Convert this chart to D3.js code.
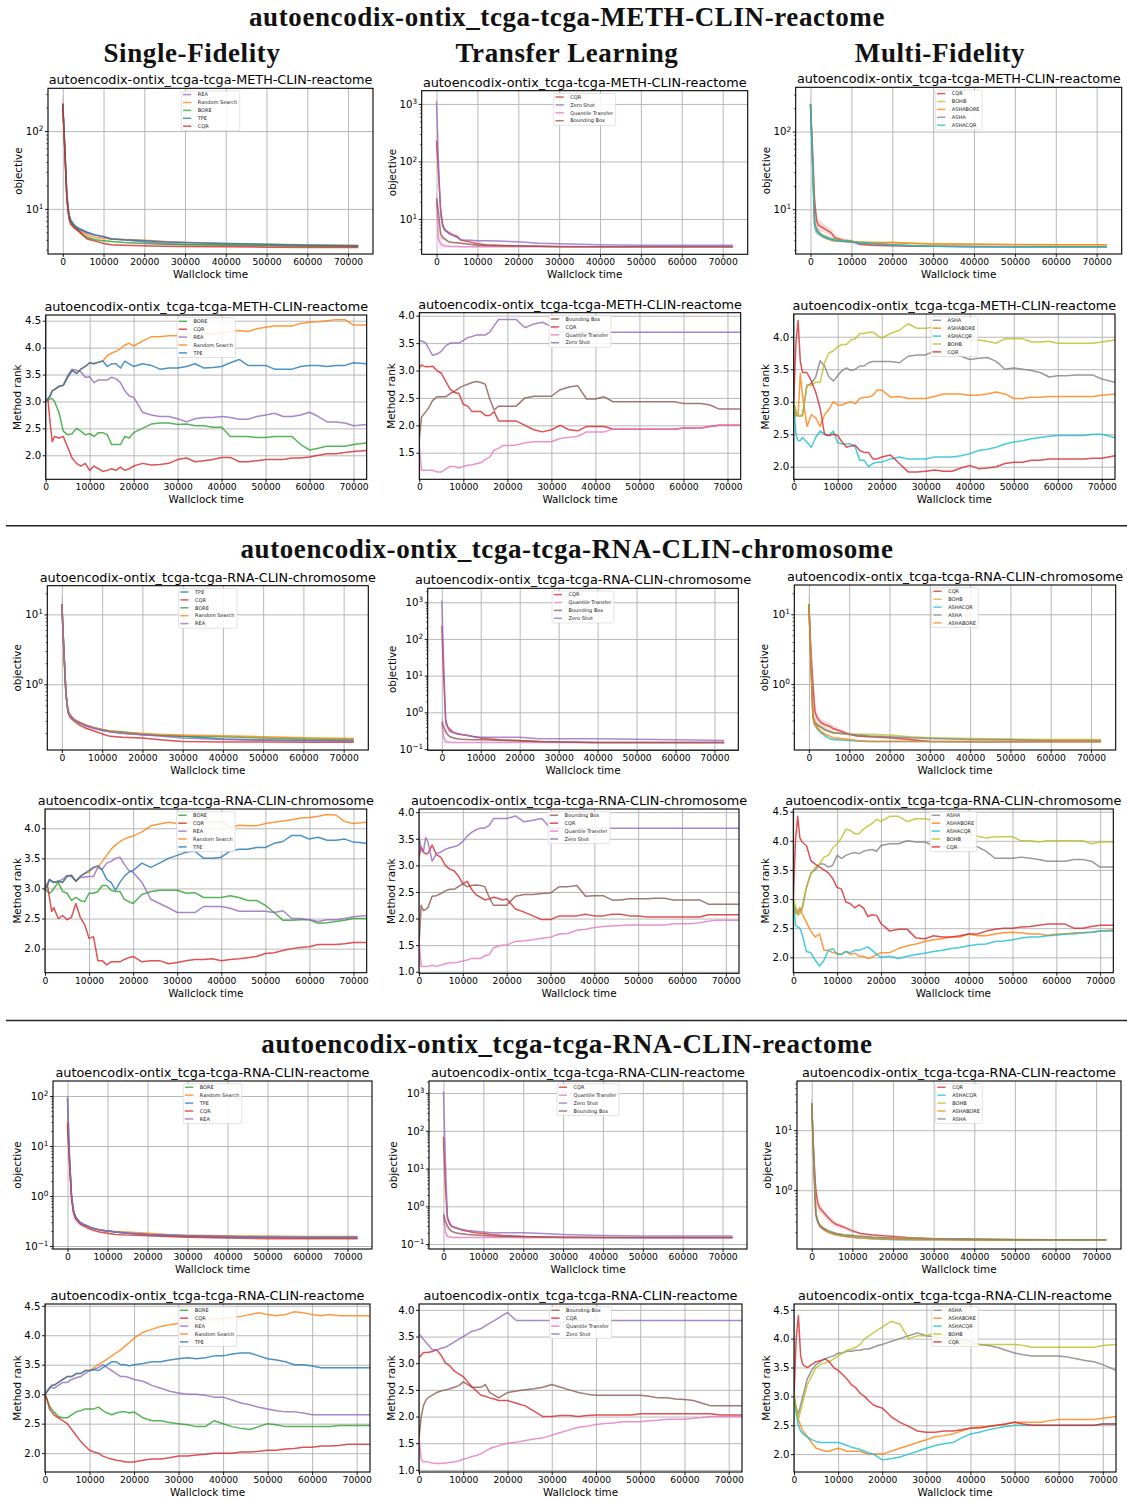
<!DOCTYPE html>
<html>
<head>
<meta charset="utf-8">
<script src="https://cdn.jsdelivr.net/npm/d3@7"></script>
<style>
  body { margin: 0; background: #fff; }
  svg { display: block; }
</style>
</head>
<body>
<svg id="fig" width="1127" height="1501"></svg>
<script>
// ---------------------------------------------------------------------------
// Time grids (seconds of wallclock time)
// ---------------------------------------------------------------------------
const OBJ_T = [0, 500, 1000, 1500, 2000, 3000, 4000, 5000, 6000, 8000, 10000, 12000,
  15000, 20000, 25000, 30000, 40000, 50000, 60000, 72500];

const RANK_T = [0, 500, 1000, 1500, 2000,
  3000, 4000, 5000, 6000, 7000, 8000, 9000, 10000, 11000, 12000, 13000, 14000, 15000,
  16000, 17000, 18000, 19000, 20000,
  22000, 24000, 26000, 28000, 30000, 32000, 34000, 36000, 38000, 40000, 42000, 44000,
  46000, 48000, 50000, 52000, 54000, 56000, 58000, 60000, 62000, 64000, 66000, 68000, 70000,
  73000];

const X_TICKS = [0, 10000, 20000, 30000, 40000, 50000, 60000, 70000];

// relative half-width of the confidence band around each objective curve
const OBJ_SPREAD = [0.35, 0.45, 0.25, 0.12, 0.08, 0.06, 0.05, 0.04, 0.04, 0.03, 0.03, 0.025,
  0.02, 0.02, 0.02, 0.015, 0.015, 0.015, 0.015, 0.015];
const CQR_MF_SPREAD = [0.35, 0.5, 0.4, 0.3, 0.18, 0.14, 0.13, 0.12, 0.1, 0.07, 0.05, 0.04,
  0.03, 0.03, 0.02, 0.02, 0.02, 0.02, 0.015, 0.015];

const SECTION_TITLES = [
  'autoencodix-ontix_tcga-tcga-METH-CLIN-reactome',
  'autoencodix-ontix_tcga-tcga-RNA-CLIN-chromosome',
  'autoencodix-ontix_tcga-tcga-RNA-CLIN-reactome'
];
const COLUMN_TITLES = ['Single-Fidelity', 'Transfer Learning', 'Multi-Fidelity'];

// ---------------------------------------------------------------------------
// METH-CLIN-reactome
// ---------------------------------------------------------------------------
const methSfObj = {
  'REA':           [225, 60, 15, 8.5, 7.0, 6.0, 5.6, 5.2, 4.9, 4.6, 4.4, 4.1, 4.0, 3.75, 3.6, 3.5, 3.45, 3.4, 3.35, 3.3],
  'Random Search': [225, 58, 14, 8.0, 6.8, 5.8, 5.3, 5.0, 4.6, 4.3, 4.2, 4.1, 4.05, 3.95, 3.8, 3.7, 3.6, 3.5, 3.45, 3.4],
  'BORE':          [225, 58, 14, 8.0, 6.6, 5.7, 5.2, 4.6, 4.3, 4.0, 3.9, 3.8, 3.7, 3.6, 3.5, 3.45, 3.4, 3.35, 3.3, 3.28],
  'TPE':           [225, 60, 15, 8.5, 7.0, 6.0, 5.5, 5.3, 5.0, 4.6, 4.4, 4.1, 4.0, 3.9, 3.75, 3.7, 3.6, 3.5, 3.4, 3.35],
  'CQR':           [225, 55, 13, 7.5, 6.3, 5.6, 5.1, 4.6, 4.1, 3.85, 3.6, 3.45, 3.4, 3.35, 3.3, 3.28, 3.25, 3.22, 3.2, 3.2]
};
const methTlObj = {
  'CQR':               [230, 60, 15, 8.0, 6.5, 5.8, 5.3, 5.0, 4.3, 4.0, 3.7, 3.55, 3.5, 3.4, 3.35, 3.3, 3.3, 3.3, 3.3, 3.3],
  'Zero Shot':         [1100, 90, 12, 7.5, 6.5, 5.6, 5.2, 4.8, 4.3, 4.25, 4.2, 4.2, 4.15, 4.0, 3.8, 3.7, 3.55, 3.5, 3.5, 3.5],
  'Quantile Transfer': [20, 4.5, 3.7, 3.5, 3.4, 3.35, 3.33, 3.32, 3.3, 3.3, 3.3, 3.3, 3.3, 3.3, 3.3, 3.28, 3.28, 3.28, 3.28, 3.28],
  'Bounding Box':      [23, 12, 5.5, 4.8, 4.5, 4.0, 3.9, 3.85, 3.8, 3.65, 3.5, 3.45, 3.42, 3.38, 3.35, 3.33, 3.3, 3.3, 3.3, 3.3]
};
const methMfObj = {
  'CQR':      [225, 60, 13, 7.0, 6.2, 5.8, 5.4, 5.0, 4.3, 4.0, 3.9, 3.55, 3.45, 3.4, 3.35, 3.33, 3.3, 3.3, 3.3, 3.3],
  'BOHB':     [225, 40, 6.5, 5.5, 5.0, 4.6, 4.4, 4.2, 4.1, 3.95, 3.85, 3.8, 3.75, 3.75, 3.65, 3.6, 3.55, 3.5, 3.5, 3.5],
  'ASHABORE': [225, 40, 6.5, 5.5, 5.0, 4.5, 4.2, 4.0, 3.9, 3.85, 3.8, 3.75, 3.7, 3.7, 3.62, 3.58, 3.55, 3.52, 3.5, 3.5],
  'ASHA':     [225, 40, 6.3, 5.3, 4.9, 4.5, 4.3, 4.1, 4.0, 3.9, 3.8, 3.7, 3.6, 3.5, 3.4, 3.35, 3.33, 3.3, 3.3, 3.3],
  'ASHACQR':  [225, 40, 6.3, 5.3, 4.9, 4.5, 4.3, 4.1, 4.0, 3.9, 3.8, 3.7, 3.6, 3.5, 3.4, 3.33, 3.3, 3.3, 3.28, 3.28]
};
const methSfRank = {
  'BORE': [3.0, 3.02, 3.05, 3.05, 3.0,
    2.8, 2.45, 2.38, 2.4, 2.5, 2.45, 2.38, 2.4, 2.35, 2.42, 2.42, 2.38, 2.2, 2.2, 2.2, 2.35, 2.32, 2.42,
    2.5, 2.58, 2.6, 2.6, 2.57, 2.58, 2.55, 2.55, 2.52, 2.52, 2.35, 2.35, 2.35, 2.33, 2.33, 2.35, 2.35, 2.35, 2.2, 2.1, 2.13, 2.17, 2.17, 2.17, 2.2,
    2.23],
  'CQR': [3.0, 3.05, 2.6, 2.25, 2.35,
    2.32, 2.35, 2.15, 1.95, 1.85, 1.8, 1.85, 1.72, 1.8, 1.75, 1.7, 1.72, 1.75, 1.72, 1.78, 1.72, 1.75, 1.8,
    1.85, 1.82, 1.83, 1.85, 1.92, 1.95, 1.88, 1.9, 1.92, 1.96, 1.96, 1.88, 1.88, 1.9, 1.92, 1.92, 1.92, 1.95, 1.95, 1.97, 2.0, 2.03, 2.03, 2.05, 2.07,
    2.09],
  'REA': [3.0, 3.05, 3.1, 3.2, 3.22,
    3.28, 3.3, 3.48, 3.6, 3.58, 3.55, 3.45, 3.46, 3.35, 3.4, 3.4, 3.4, 3.45, 3.42, 3.35, 3.2, 3.1, 3.08,
    2.8, 2.75, 2.72, 2.72, 2.68, 2.62, 2.68, 2.7, 2.7, 2.72, 2.7, 2.67, 2.67, 2.72, 2.75, 2.78, 2.72, 2.72, 2.75, 2.8, 2.72, 2.62, 2.62, 2.6, 2.55,
    2.57],
  'Random Search': [3.0, 3.05, 3.1, 3.2, 3.22,
    3.28, 3.3, 3.45, 3.58, 3.52, 3.6, 3.65, 3.72, 3.7, 3.73, 3.75, 3.85, 3.9, 3.93, 3.98, 4.05, 4.08, 4.03,
    4.12, 4.2, 4.2, 4.22, 4.22, 4.25, 4.2, 4.25, 4.25, 4.27, 4.3, 4.32, 4.3, 4.35, 4.38, 4.4, 4.4, 4.4, 4.45, 4.47, 4.48, 4.5, 4.52, 4.52, 4.42,
    4.42],
  'TPE': [3.0, 3.05, 3.1, 3.2, 3.22,
    3.28, 3.3, 3.45, 3.58, 3.52, 3.6, 3.65, 3.72, 3.7, 3.73, 3.75, 3.65, 3.7, 3.7, 3.62, 3.75, 3.7, 3.65,
    3.7, 3.67, 3.6, 3.62, 3.62, 3.65, 3.7, 3.62, 3.63, 3.65, 3.72, 3.78, 3.67, 3.67, 3.67, 3.6, 3.6, 3.6, 3.65, 3.67, 3.67, 3.65, 3.67, 3.67, 3.72,
    3.7]
};
const methTlRank = {
  'Bounding Box': [1.75, 2.15, 2.2, 2.25, 2.3,
    2.45, 2.52, 2.52, 2.52, 2.58, 2.62, 2.68, 2.72, 2.75, 2.78, 2.8, 2.78, 2.75, 2.48, 2.28, 2.35, 2.35, 2.35,
    2.35, 2.5, 2.53, 2.53, 2.53, 2.65, 2.7, 2.72, 2.48, 2.48, 2.52, 2.43, 2.43, 2.43, 2.43, 2.43, 2.43, 2.43, 2.43, 2.4, 2.4, 2.4, 2.37, 2.3, 2.3,
    2.3],
  'CQR': [3.05, 3.1, 3.08, 3.07, 3.07,
    3.08, 3.0, 2.95, 2.8, 2.66, 2.6, 2.58, 2.38, 2.35, 2.25, 2.25, 2.25, 2.18, 2.18, 2.25, 2.08, 2.08, 2.08,
    2.08, 2.0, 1.92, 1.88, 1.92, 2.0, 1.92, 1.9, 1.98, 1.98, 1.98, 1.93, 1.93, 1.93, 1.93, 1.93, 1.93, 1.93, 1.93, 1.95, 1.95, 1.95, 1.98, 2.0, 2.0,
    2.0],
  'Quantile Transfer': [1.6, 1.18, 1.18, 1.18, 1.18,
    1.18, 1.15, 1.15, 1.2, 1.25, 1.25, 1.22, 1.25, 1.27, 1.28, 1.3, 1.32, 1.38, 1.42, 1.55, 1.58, 1.63, 1.63,
    1.64, 1.68, 1.7, 1.7, 1.7, 1.76, 1.78, 1.8, 1.88, 1.88, 1.88, 1.93, 1.93, 1.93, 1.93, 1.93, 1.93, 1.93, 1.93, 1.95, 1.95, 1.95, 1.98, 2.0, 2.0,
    2.0],
  'Zero Shot': [3.55, 3.54, 3.52, 3.5, 3.42,
    3.28, 3.3, 3.35, 3.45, 3.5, 3.5, 3.5, 3.55, 3.6, 3.62, 3.65, 3.65, 3.65, 3.7, 3.82, 3.93, 3.93, 3.93,
    3.93, 3.78, 3.85, 3.88, 3.8, 3.7, 3.7, 3.7, 3.7, 3.7, 3.7, 3.7, 3.7, 3.7, 3.7, 3.7, 3.7, 3.7, 3.7, 3.7, 3.7, 3.7, 3.7, 3.7, 3.7,
    3.7]
};
const methMfRank = {
  'ASHA': [3.0, 2.85, 2.78, 2.78, 2.8,
    3.25, 3.28, 3.38, 3.63, 3.55, 3.38, 3.32, 3.4, 3.48, 3.52, 3.48, 3.5, 3.55, 3.55, 3.6, 3.62, 3.62, 3.62,
    3.62, 3.6, 3.7, 3.72, 3.72, 3.78, 3.78, 3.75, 3.7, 3.65, 3.67, 3.68, 3.62, 3.5, 3.52, 3.5, 3.48, 3.45, 3.38, 3.4, 3.4, 3.41, 3.41, 3.41, 3.35,
    3.3],
  'ASHABORE': [3.0, 2.78, 2.8, 3.43, 3.1,
    2.62, 2.8, 2.75, 2.62, 2.8, 2.88, 3.0, 2.95, 2.95, 2.98, 3.0, 2.97, 3.05, 3.07, 3.07, 3.1, 3.18, 3.18,
    3.07, 3.08, 3.05, 3.05, 3.05, 3.08, 3.12, 3.12, 3.12, 3.1, 3.1, 3.12, 3.15, 3.12, 3.05, 3.05, 3.07, 3.07, 3.08, 3.08, 3.08, 3.08, 3.08, 3.08, 3.1,
    3.12],
  'ASHACQR': [3.0, 2.5, 2.4, 2.4, 2.45,
    2.38, 2.3, 2.45, 2.55, 2.5, 2.48, 2.55, 2.37, 2.35, 2.35, 2.35, 2.3, 2.1, 2.1, 2.0, 2.05, 2.07, 2.07,
    2.12, 2.15, 2.12, 2.12, 2.12, 2.15, 2.15, 2.15, 2.17, 2.2, 2.25, 2.27, 2.3, 2.35, 2.38, 2.4, 2.43, 2.45, 2.47, 2.48, 2.48, 2.48, 2.48, 2.5, 2.5,
    2.45],
  'BOHB': [3.0, 2.85, 2.78, 2.78, 2.78,
    3.25, 3.25, 3.3, 3.3, 3.6, 3.75, 3.78, 3.85, 3.88, 3.88, 3.95, 3.97, 4.05, 4.05, 4.07, 4.07, 4.02, 3.98,
    4.05, 4.1, 4.2, 4.13, 4.13, 4.15, 4.1, 4.05, 4.0, 3.95, 3.95, 3.93, 3.9, 3.97, 3.97, 3.97, 3.92, 3.92, 3.93, 3.9, 3.9, 3.9, 3.9, 3.9, 3.92,
    3.95],
  'CQR': [3.0, 3.9, 4.25, 3.62, 3.45,
    3.45, 3.32, 3.15, 2.9, 2.5, 2.48, 2.5, 2.48, 2.38, 2.3, 2.32, 2.33, 2.25, 2.22, 2.22, 2.12, 2.12, 2.15,
    2.18, 2.05, 1.92, 1.92, 1.93, 1.95, 1.93, 1.93, 1.98, 2.02, 1.97, 1.98, 2.0, 2.05, 2.07, 2.07, 2.1, 2.1, 2.12, 2.12, 2.12, 2.12, 2.12, 2.13, 2.13,
    2.17]
};

// ---------------------------------------------------------------------------
// RNA-CLIN-chromosome
// ---------------------------------------------------------------------------
const chromSfObj = {
  'TPE':           [14, 3.0, 0.75, 0.42, 0.36, 0.31, 0.29, 0.27, 0.255, 0.235, 0.22, 0.21, 0.2, 0.19, 0.185, 0.18, 0.165, 0.16, 0.158, 0.155],
  'CQR':           [14, 2.8, 0.72, 0.4, 0.34, 0.3, 0.27, 0.25, 0.235, 0.215, 0.195, 0.18, 0.175, 0.17, 0.16, 0.152, 0.15, 0.149, 0.148, 0.148],
  'BORE':          [14, 3.0, 0.75, 0.42, 0.36, 0.31, 0.29, 0.275, 0.26, 0.24, 0.225, 0.215, 0.21, 0.195, 0.185, 0.18, 0.178, 0.17, 0.165, 0.162],
  'Random Search': [14, 3.0, 0.75, 0.42, 0.36, 0.31, 0.29, 0.275, 0.26, 0.24, 0.225, 0.215, 0.205, 0.198, 0.192, 0.188, 0.183, 0.178, 0.172, 0.168],
  'REA':           [14, 3.0, 0.75, 0.42, 0.36, 0.31, 0.29, 0.27, 0.255, 0.235, 0.22, 0.21, 0.2, 0.19, 0.18, 0.17, 0.162, 0.158, 0.155, 0.155]
};
const chromTlObj = {
  'CQR':               [230, 8, 0.6, 0.4, 0.35, 0.28, 0.26, 0.25, 0.24, 0.22, 0.2, 0.19, 0.18, 0.17, 0.16, 0.155, 0.15, 0.15, 0.15, 0.15],
  'Quantile Transfer': [0.5, 0.2, 0.16, 0.155, 0.152, 0.15, 0.15, 0.15, 0.15, 0.15, 0.15, 0.15, 0.15, 0.15, 0.15, 0.15, 0.148, 0.148, 0.148, 0.148],
  'Bounding Box':      [0.55, 0.4, 0.3, 0.25, 0.22, 0.2, 0.19, 0.185, 0.183, 0.18, 0.18, 0.175, 0.17, 0.165, 0.16, 0.155, 0.15, 0.15, 0.15, 0.15],
  'Zero Shot':         [1100, 20, 0.5, 0.4, 0.3, 0.28, 0.26, 0.25, 0.24, 0.22, 0.21, 0.21, 0.21, 0.21, 0.19, 0.19, 0.19, 0.185, 0.18, 0.17]
};
const chromMfObj = {
  'CQR':      [14, 3.0, 1.0, 0.4, 0.33, 0.28, 0.26, 0.25, 0.23, 0.21, 0.19, 0.18, 0.175, 0.17, 0.16, 0.15, 0.148, 0.148, 0.148, 0.148],
  'BOHB':     [14, 2.0, 0.34, 0.28, 0.26, 0.24, 0.22, 0.21, 0.2, 0.195, 0.19, 0.19, 0.19, 0.185, 0.175, 0.17, 0.165, 0.162, 0.16, 0.16],
  'ASHACQR':  [14, 2.0, 0.33, 0.26, 0.23, 0.2, 0.18, 0.166, 0.16, 0.157, 0.155, 0.152, 0.15, 0.15, 0.15, 0.15, 0.15, 0.15, 0.15, 0.15],
  'ASHA':     [14, 2.0, 0.34, 0.28, 0.26, 0.24, 0.22, 0.21, 0.2, 0.195, 0.19, 0.185, 0.18, 0.175, 0.17, 0.165, 0.16, 0.158, 0.155, 0.155],
  'ASHABORE': [14, 2.0, 0.33, 0.27, 0.24, 0.21, 0.19, 0.18, 0.17, 0.165, 0.16, 0.155, 0.15, 0.15, 0.15, 0.15, 0.15, 0.15, 0.15, 0.15]
};
const chromSfRank = {
  'BORE': [3.0, 2.95, 2.92, 2.95, 3.0,
    3.1, 2.95, 2.92, 2.8, 2.85, 2.8, 2.78, 2.92, 2.92, 2.95, 3.05, 3.05, 2.97, 2.95, 2.95, 2.82, 2.78, 2.75,
    2.9, 2.95, 2.97, 2.97, 2.97, 2.92, 2.93, 2.85, 2.85, 2.85, 2.88, 2.85, 2.8, 2.8, 2.72, 2.6, 2.47, 2.47, 2.48, 2.48, 2.42, 2.43, 2.45, 2.47, 2.5,
    2.5],
  'CQR': [3.0, 3.08, 2.85, 2.62, 2.68,
    2.5, 2.55, 2.48, 2.52, 2.75, 2.52, 2.4, 2.17, 2.2, 1.8, 1.8, 1.73, 1.78, 1.78, 1.78, 1.82, 1.85, 1.87,
    1.78, 1.8, 1.8, 1.75, 1.77, 1.8, 1.82, 1.82, 1.83, 1.8, 1.82, 1.83, 1.85, 1.87, 1.92, 1.93, 1.97, 2.0, 2.02, 2.03, 2.07, 2.07, 2.07, 2.08, 2.1,
    2.1],
  'REA': [3.0, 3.05, 3.15, 3.12, 3.1,
    3.12, 3.15, 3.22, 3.2, 3.12, 3.18, 3.19, 3.2, 3.2, 3.35, 3.32, 3.42, 3.45, 3.5, 3.52, 3.4, 3.3, 3.27,
    3.1, 2.82, 2.75, 2.68, 2.6, 2.6, 2.6, 2.7, 2.7, 2.7, 2.67, 2.62, 2.62, 2.62, 2.62, 2.6, 2.63, 2.5, 2.5, 2.48, 2.45, 2.48, 2.48, 2.5, 2.53,
    2.55],
  'Random Search': [3.0, 3.05, 3.15, 3.12, 3.1,
    3.12, 3.1, 3.2, 3.22, 3.12, 3.2, 3.25, 3.27, 3.35, 3.35, 3.45, 3.55, 3.65, 3.72, 3.78, 3.82, 3.85, 3.87,
    3.94, 4.04, 4.07, 4.1, 4.08, 4.09, 4.11, 4.1, 4.1, 4.11, 4.01, 4.05, 4.04, 4.04, 4.08, 4.1, 4.12, 4.14, 4.17, 4.18, 4.2, 4.23, 4.22, 4.11, 4.08,
    4.1],
  'TPE': [3.0, 3.05, 3.15, 3.12, 3.1,
    3.12, 3.1, 3.2, 3.22, 3.12, 3.2, 3.25, 3.3, 3.35, 3.38, 3.3, 3.15, 3.1, 2.97, 3.1, 3.2, 3.27, 3.3,
    3.42, 3.35, 3.42, 3.5, 3.55, 3.6, 3.62, 3.5, 3.5, 3.52, 3.62, 3.65, 3.65, 3.68, 3.68, 3.75, 3.78, 3.88, 3.88, 3.82, 3.85, 3.8, 3.8, 3.82, 3.77,
    3.75]
};
const chromTlRank = {
  'Bounding Box': [1.5, 2.25, 2.15, 2.17, 2.2,
    2.42, 2.43, 2.47, 2.52, 2.55, 2.55, 2.6, 2.65, 2.6, 2.62, 2.63, 2.62, 2.6, 2.4, 2.25, 2.25, 2.25, 2.25,
    2.42, 2.45, 2.45, 2.47, 2.48, 2.6, 2.6, 2.62, 2.42, 2.43, 2.43, 2.35, 2.35, 2.37, 2.37, 2.37, 2.38, 2.38, 2.35, 2.35, 2.35, 2.35, 2.27, 2.27, 2.27,
    2.27],
  'CQR': [3.15, 3.35, 3.25, 3.22, 3.22,
    3.38, 3.2, 3.15, 3.0, 2.93, 2.9, 2.8, 2.65, 2.7, 2.55, 2.45, 2.4, 2.35, 2.37, 2.4, 2.38, 2.35, 2.37,
    2.18, 2.12, 2.05, 1.98, 1.98, 2.05, 2.05, 2.05, 2.08, 2.05, 2.05, 2.08, 2.08, 2.05, 2.05, 2.03, 2.03, 2.03, 2.03, 2.03, 2.03, 2.03, 2.07, 2.07, 2.07,
    2.07],
  'Quantile Transfer': [1.6, 1.1, 1.1, 1.1, 1.1,
    1.12, 1.1, 1.12, 1.15, 1.17, 1.17, 1.18, 1.2, 1.22, 1.25, 1.25, 1.25, 1.3, 1.32, 1.45, 1.48, 1.5, 1.5,
    1.57, 1.58, 1.6, 1.63, 1.65, 1.71, 1.72, 1.78, 1.8, 1.83, 1.85, 1.86, 1.87, 1.88, 1.88, 1.88, 1.88, 1.88, 1.9, 1.9, 1.9, 1.92, 1.95, 1.97, 1.97,
    1.97],
  'Zero Shot': [3.55, 3.3, 3.25, 3.52, 3.45,
    3.08, 3.22, 3.25, 3.3, 3.33, 3.35, 3.38, 3.45, 3.55, 3.62, 3.67, 3.7, 3.7, 3.75, 3.88, 3.88, 3.88, 3.88,
    3.93, 3.82, 3.85, 3.88, 3.7, 3.7, 3.7, 3.7, 3.7, 3.7, 3.7, 3.7, 3.7, 3.7, 3.7, 3.7, 3.7, 3.7, 3.7, 3.7, 3.7, 3.7, 3.7, 3.7, 3.7,
    3.7]
};
const chromMfRank = {
  'ASHA': [3.0, 2.85, 2.75, 2.8, 2.85,
    3.2, 3.45, 3.5, 3.6, 3.6, 3.55, 3.58, 3.75, 3.7, 3.75, 3.78, 3.8, 3.78, 3.82, 3.84, 3.85, 3.82, 3.92,
    3.95, 3.95, 4.0, 3.98, 3.98, 3.92, 3.9, 3.88, 3.9, 3.88, 3.9, 3.82, 3.7, 3.7, 3.7, 3.72, 3.7, 3.68, 3.65, 3.65, 3.65, 3.68, 3.68, 3.65, 3.55,
    3.55],
  'ASHABORE': [3.0, 2.75, 2.8, 2.85, 2.75,
    2.6, 2.45, 2.35, 2.4, 2.12, 2.12, 2.08, 2.07, 2.05, 2.1, 2.05, 2.07, 2.02, 2.02, 1.98, 2.0, 2.05, 2.08,
    2.08, 2.15, 2.2, 2.23, 2.27, 2.3, 2.32, 2.35, 2.35, 2.4, 2.37, 2.37, 2.4, 2.42, 2.43, 2.42, 2.4, 2.4, 2.38, 2.4, 2.4, 2.42, 2.42, 2.43, 2.45,
    2.47],
  'ASHACQR': [3.0, 2.55, 2.52, 2.5, 2.4,
    2.1, 2.08, 1.95, 1.85, 1.95, 2.12, 2.15, 2.05, 2.05, 2.1, 2.08, 2.12, 2.12, 2.15, 2.18, 2.12, 2.05, 2.0,
    2.02, 1.98, 2.02, 2.05, 2.07, 2.1, 2.12, 2.15, 2.17, 2.2, 2.22, 2.23, 2.27, 2.28, 2.3, 2.33, 2.35, 2.35, 2.37, 2.38, 2.4, 2.4, 2.42, 2.43, 2.45,
    2.45],
  'BOHB': [3.0, 2.85, 2.72, 2.75, 2.8,
    3.2, 3.42, 3.55, 3.6, 3.72, 3.75, 3.88, 3.95, 4.05, 4.2, 4.18, 4.12, 4.12, 4.2, 4.25, 4.3, 4.37, 4.33,
    4.42, 4.42, 4.33, 4.38, 4.38, 4.35, 4.3, 4.2, 4.15, 4.13, 4.08, 4.05, 4.07, 4.07, 4.07, 4.0, 4.0, 3.98, 4.0, 4.0, 4.0, 4.0, 4.0, 3.95, 3.98,
    3.98],
  'CQR': [3.0, 4.0, 4.42, 4.05, 3.98,
    3.92, 3.66, 3.6, 3.55, 3.5, 3.45, 3.35, 3.2, 3.17, 2.95, 2.92, 2.85, 2.9, 2.85, 2.7, 2.73, 2.72, 2.58,
    2.45, 2.48, 2.48, 2.33, 2.32, 2.37, 2.35, 2.35, 2.37, 2.4, 2.4, 2.45, 2.48, 2.5, 2.5, 2.52, 2.53, 2.55, 2.57, 2.57, 2.57, 2.5, 2.5, 2.53, 2.55,
    2.55]
};

// ---------------------------------------------------------------------------
// RNA-CLIN-reactome
// ---------------------------------------------------------------------------
const reactSfObj = {
  'BORE':          [30, 5, 1.0, 0.5, 0.38, 0.3, 0.27, 0.25, 0.23, 0.21, 0.2, 0.19, 0.18, 0.17, 0.16, 0.155, 0.15, 0.15, 0.145, 0.145],
  'Random Search': [30, 5, 1.0, 0.5, 0.38, 0.3, 0.27, 0.25, 0.23, 0.21, 0.2, 0.195, 0.19, 0.18, 0.17, 0.165, 0.16, 0.158, 0.155, 0.155],
  'TPE':           [90, 6, 1.0, 0.5, 0.38, 0.3, 0.27, 0.25, 0.23, 0.21, 0.2, 0.19, 0.18, 0.17, 0.165, 0.16, 0.155, 0.15, 0.15, 0.15],
  'CQR':           [27, 4.5, 0.9, 0.45, 0.35, 0.28, 0.25, 0.23, 0.21, 0.19, 0.18, 0.17, 0.165, 0.16, 0.155, 0.15, 0.145, 0.14, 0.14, 0.14],
  'REA':           [100, 6, 1.0, 0.5, 0.38, 0.3, 0.27, 0.25, 0.23, 0.21, 0.2, 0.19, 0.18, 0.17, 0.165, 0.16, 0.155, 0.15, 0.148, 0.148]
};
const reactTlObj = {
  'CQR':               [70, 3, 0.5, 0.35, 0.3, 0.27, 0.25, 0.23, 0.22, 0.2, 0.19, 0.18, 0.17, 0.16, 0.155, 0.15, 0.15, 0.148, 0.148, 0.148],
  'Quantile Transfer': [0.5, 0.2, 0.16, 0.155, 0.152, 0.15, 0.15, 0.15, 0.15, 0.15, 0.15, 0.15, 0.15, 0.148, 0.148, 0.148, 0.148, 0.148, 0.148, 0.148],
  'Zero Shot':         [1100, 15, 0.5, 0.38, 0.3, 0.27, 0.25, 0.24, 0.23, 0.22, 0.21, 0.2, 0.2, 0.2, 0.19, 0.18, 0.17, 0.165, 0.165, 0.165],
  'Bounding Box':      [0.6, 0.4, 0.3, 0.25, 0.22, 0.2, 0.19, 0.185, 0.18, 0.175, 0.17, 0.165, 0.16, 0.158, 0.155, 0.153, 0.15, 0.15, 0.15, 0.15]
};
const reactMfObj = {
  'CQR':      [28, 4, 1.0, 0.6, 0.5, 0.42, 0.35, 0.3, 0.27, 0.24, 0.21, 0.19, 0.18, 0.17, 0.16, 0.155, 0.15, 0.15, 0.148, 0.148],
  'ASHACQR':  [28, 3, 0.4, 0.3, 0.25, 0.22, 0.2, 0.19, 0.18, 0.17, 0.165, 0.16, 0.155, 0.15, 0.15, 0.15, 0.148, 0.148, 0.148, 0.148],
  'BOHB':     [28, 3, 0.4, 0.3, 0.26, 0.23, 0.21, 0.2, 0.19, 0.18, 0.175, 0.17, 0.165, 0.16, 0.16, 0.155, 0.155, 0.152, 0.15, 0.15],
  'ASHABORE': [28, 3, 0.4, 0.3, 0.25, 0.22, 0.2, 0.19, 0.18, 0.17, 0.165, 0.16, 0.155, 0.152, 0.15, 0.15, 0.148, 0.148, 0.148, 0.148],
  'ASHA':     [28, 3, 0.4, 0.3, 0.26, 0.23, 0.21, 0.2, 0.19, 0.18, 0.175, 0.17, 0.165, 0.16, 0.158, 0.155, 0.153, 0.15, 0.15, 0.15]
};
const reactSfRank = {
  'BORE': [3.0, 2.9, 2.8, 2.75, 2.7,
    2.62, 2.6, 2.6, 2.65, 2.7, 2.72, 2.75, 2.75, 2.75, 2.78, 2.72, 2.68, 2.65, 2.68, 2.7, 2.7, 2.68, 2.7,
    2.6, 2.55, 2.55, 2.52, 2.5, 2.48, 2.45, 2.45, 2.55, 2.5, 2.45, 2.42, 2.4, 2.45, 2.5, 2.48, 2.45, 2.45, 2.45, 2.45, 2.45, 2.45, 2.47, 2.47, 2.47,
    2.47],
  'CQR': [3.0, 2.9, 2.75, 2.7, 2.65,
    2.6, 2.55, 2.5, 2.4, 2.3, 2.2, 2.12, 2.05, 2.02, 2.0, 1.95, 1.92, 1.9, 1.88, 1.87, 1.85, 1.85, 1.85,
    1.88, 1.9, 1.9, 1.92, 1.95, 1.95, 1.97, 1.98, 2.0, 2.0, 2.0, 2.02, 2.02, 2.03, 2.05, 2.05, 2.07, 2.08, 2.1, 2.1, 2.12, 2.12, 2.13, 2.15, 2.15,
    2.15],
  'REA': [3.0, 3.05, 3.1, 3.12, 3.1,
    3.15, 3.2, 3.2, 3.25, 3.28, 3.3, 3.35, 3.4, 3.42, 3.45, 3.5, 3.45, 3.4, 3.35, 3.3, 3.3, 3.28, 3.25,
    3.22, 3.15, 3.1, 3.05, 3.02, 3.0, 3.0, 2.98, 2.95, 2.95, 2.9, 2.85, 2.82, 2.78, 2.75, 2.72, 2.7, 2.7, 2.68, 2.65, 2.65, 2.65, 2.65, 2.65, 2.65,
    2.65],
  'Random Search': [3.0, 3.05, 3.1, 3.15, 3.15,
    3.2, 3.25, 3.3, 3.3, 3.35, 3.35, 3.4, 3.4, 3.45, 3.5, 3.55, 3.6, 3.65, 3.7, 3.75, 3.82, 3.88, 3.95,
    4.05, 4.1, 4.15, 4.18, 4.2, 4.22, 4.23, 4.25, 4.28, 4.28, 4.3, 4.32, 4.35, 4.38, 4.35, 4.33, 4.35, 4.4, 4.38, 4.35, 4.33, 4.35, 4.33, 4.33, 4.33,
    4.33],
  'TPE': [3.0, 3.05, 3.1, 3.15, 3.15,
    3.2, 3.25, 3.3, 3.3, 3.35, 3.35, 3.4, 3.4, 3.42, 3.4, 3.45, 3.5, 3.55, 3.55, 3.5, 3.5, 3.48, 3.5,
    3.52, 3.55, 3.55, 3.58, 3.6, 3.62, 3.6, 3.62, 3.65, 3.65, 3.68, 3.7, 3.7, 3.65, 3.6, 3.58, 3.55, 3.5, 3.5, 3.48, 3.45, 3.45, 3.45, 3.45, 3.45,
    3.45]
};
const reactTlRank = {
  'Bounding Box': [1.6, 2.0, 2.2, 2.3, 2.35,
    2.4, 2.45, 2.48, 2.5, 2.52, 2.55, 2.58, 2.65, 2.6, 2.55, 2.55, 2.55, 2.6, 2.45, 2.4, 2.35, 2.4, 2.45,
    2.48, 2.5, 2.52, 2.55, 2.6, 2.55, 2.5, 2.45, 2.42, 2.4, 2.4, 2.4, 2.4, 2.4, 2.4, 2.38, 2.35, 2.35, 2.33, 2.32, 2.3, 2.25, 2.2, 2.2, 2.2,
    2.2],
  'CQR': [3.1, 3.15, 3.2, 3.2, 3.2,
    3.22, 3.25, 3.15, 3.0, 2.95, 2.85, 2.8, 2.75, 2.65, 2.55, 2.48, 2.4, 2.38, 2.35, 2.33, 2.3, 2.3, 2.3,
    2.25, 2.2, 2.1, 2.0, 2.0, 2.02, 2.02, 2.0, 2.02, 2.03, 2.03, 2.03, 2.03, 2.03, 2.05, 2.05, 2.05, 2.05, 2.05, 2.05, 2.05, 2.05, 2.05, 2.03, 2.03,
    2.03],
  'Quantile Transfer': [1.6, 1.2, 1.15, 1.15, 1.15,
    1.13, 1.12, 1.12, 1.13, 1.14, 1.15, 1.17, 1.2, 1.22, 1.25, 1.27, 1.3, 1.35, 1.4, 1.43, 1.45, 1.48, 1.5,
    1.52, 1.55, 1.58, 1.6, 1.65, 1.7, 1.75, 1.8, 1.82, 1.85, 1.87, 1.88, 1.9, 1.9, 1.9, 1.92, 1.93, 1.95, 1.95, 1.95, 1.97, 1.98, 2.0, 2.0, 2.0,
    2.0],
  'Zero Shot': [3.55, 3.5, 3.45, 3.4, 3.35,
    3.25, 3.25, 3.28, 3.3, 3.35, 3.4, 3.45, 3.5, 3.55, 3.6, 3.62, 3.65, 3.7, 3.75, 3.8, 3.85, 3.9, 3.95,
    3.8, 3.8, 3.8, 3.8, 3.8, 3.75, 3.8, 3.8, 3.8, 3.8, 3.8, 3.8, 3.8, 3.8, 3.8, 3.8, 3.8, 3.8, 3.8, 3.8, 3.8, 3.8, 3.8, 3.8, 3.8,
    3.8]
};
const reactMfRank = {
  'ASHA': [3.0, 2.8, 2.7, 2.85, 3.0,
    3.3, 3.45, 3.55, 3.6, 3.65, 3.68, 3.7, 3.75, 3.75, 3.78, 3.78, 3.8, 3.8, 3.82, 3.82, 3.85, 3.88, 3.9,
    3.95, 4.0, 4.05, 4.1, 4.05, 4.03, 4.02, 4.0, 3.98, 3.95, 3.9, 3.88, 3.85, 3.8, 3.75, 3.72, 3.7, 3.7, 3.7, 3.7, 3.68, 3.65, 3.62, 3.6, 3.55,
    3.45],
  'ASHABORE': [3.0, 2.8, 2.6, 2.5, 2.4,
    2.3, 2.2, 2.1, 2.08, 2.05, 2.05, 2.08, 2.1, 2.08, 2.05, 2.05, 2.05, 2.05, 2.02, 2.0, 2.0, 2.0, 2.0,
    2.05, 2.1, 2.15, 2.2, 2.25, 2.3, 2.32, 2.35, 2.4, 2.45, 2.47, 2.48, 2.5, 2.52, 2.55, 2.55, 2.55, 2.55, 2.58, 2.6, 2.6, 2.6, 2.6, 2.6, 2.62,
    2.65],
  'ASHACQR': [3.0, 2.7, 2.5, 2.4, 2.35,
    2.3, 2.25, 2.22, 2.2, 2.2, 2.2, 2.2, 2.2, 2.18, 2.15, 2.12, 2.1, 2.08, 2.05, 2.02, 2.0, 1.95, 1.9,
    1.92, 1.95, 2.0, 2.05, 2.1, 2.15, 2.18, 2.2, 2.28, 2.35, 2.38, 2.42, 2.45, 2.48, 2.5, 2.5, 2.5, 2.5, 2.5, 2.5, 2.5, 2.5, 2.5, 2.5, 2.52,
    2.52],
  'BOHB': [3.0, 2.8, 2.6, 2.75, 2.9,
    3.2, 3.35, 3.5, 3.55, 3.58, 3.6, 3.65, 3.7, 3.75, 3.8, 3.82, 3.85, 3.9, 4.0, 4.05, 4.1, 4.15, 4.2,
    4.3, 4.25, 4.0, 4.05, 4.05, 4.1, 4.05, 3.95, 3.92, 3.9, 3.9, 3.9, 3.9, 3.9, 3.9, 3.88, 3.85, 3.85, 3.85, 3.85, 3.85, 3.85, 3.85, 3.85, 3.88,
    3.9],
  'CQR': [3.0, 4.0, 4.4, 3.7, 3.55,
    3.5, 3.55, 3.6, 3.62, 3.65, 3.6, 3.5, 3.45, 3.38, 3.3, 3.2, 3.15, 3.05, 3.0, 2.92, 2.85, 2.82, 2.8,
    2.65, 2.55, 2.48, 2.4, 2.38, 2.38, 2.4, 2.4, 2.42, 2.45, 2.45, 2.48, 2.5, 2.52, 2.55, 2.52, 2.5, 2.5, 2.5, 2.5, 2.5, 2.5, 2.5, 2.5, 2.52,
    2.52]
};

// ---------------------------------------------------------------------------
// Styling and layout
// ---------------------------------------------------------------------------
const COLORS = {
  'REA': '#9467bd', 'Random Search': '#ff7f0e', 'BORE': '#2ca02c', 'TPE': '#1f77b4', 'CQR': '#d62728',
  'Zero Shot': '#9467bd', 'Quantile Transfer': '#e377c2', 'Bounding Box': '#8c564b',
  'BOHB': '#bcbd22', 'ASHABORE': '#ff7f0e', 'ASHA': '#7f7f7f', 'ASHACQR': '#17becf'
};
const SANS = "'DejaVu Sans', Verdana, sans-serif";
const SERIF = "'Liberation Serif', 'Times New Roman', serif";
const OBJ_XDOM = [-3625, 76125];
const RANK_XDOM = [0, 73000];

const SF_OBJ_ORDER = null; // legend order is taken from each panel's data keys

const PANELS = [
  // METH-CLIN-reactome
  { sec: 0, kind: 'obj',  box: [48, 88.3, 373, 254],        yExp: [0.42, 2.55],   data: methSfObj },
  { sec: 0, kind: 'obj',  box: [421.7, 90.7, 747.7, 254.3], yExp: [0.386, 3.23],  data: methTlObj },
  { sec: 0, kind: 'obj',  box: [795.7, 87.3, 1121.7, 254],  yExp: [0.424, 2.57],  data: methMfObj, cqrBand: true },
  { sec: 0, kind: 'rank', box: [45.7, 315, 366.7, 479.3],   yDom: [1.554, 4.606], data: methSfRank },
  { sec: 0, kind: 'rank', box: [419.3, 312.7, 740.7, 479.3], yDom: [1.015, 4.055], data: methTlRank },
  { sec: 0, kind: 'rank', box: [793.7, 314, 1115, 479.3],   yDom: [1.806, 4.35],  data: methMfRank },
  // RNA-CLIN-chromosome
  { sec: 1, kind: 'obj',  box: [47.3, 585.7, 368.3, 750],   yExp: [-0.94, 1.41],  data: chromSfObj },
  { sec: 1, kind: 'obj',  box: [427.7, 588.3, 738.3, 750.3], yExp: [-1.035, 3.38], data: chromTlObj },
  { sec: 1, kind: 'obj',  box: [794.3, 585, 1115.7, 750],   yExp: [-0.947, 1.42], data: chromMfObj, cqrBand: true },
  { sec: 1, kind: 'rank', box: [45, 809, 366.7, 972.7],     yDom: [1.60, 4.32],   data: chromSfRank },
  { sec: 1, kind: 'rank', box: [419, 809, 739, 973.3],      yDom: [0.97, 4.06],   data: chromTlRank },
  { sec: 1, kind: 'rank', box: [793.3, 809, 1113.3, 972.7], yDom: [1.736, 4.546], data: chromMfRank },
  // RNA-CLIN-reactome
  { sec: 2, kind: 'obj',  box: [53, 1081, 372, 1249],       yExp: [-1.06, 2.3],   data: reactSfObj },
  { sec: 2, kind: 'obj',  box: [429, 1081, 747, 1249],      yExp: [-1.13, 3.32],  data: reactTlObj },
  { sec: 2, kind: 'obj',  box: [797, 1081, 1121, 1249],     yExp: [-0.98, 1.82],  data: reactMfObj, cqrBand: true },
  { sec: 2, kind: 'rank', box: [45, 1304, 370, 1472],       yDom: [1.68, 4.53],   data: reactSfRank },
  { sec: 2, kind: 'rank', box: [419, 1304, 742, 1472],      yDom: [0.96, 4.11],   data: reactTlRank },
  { sec: 2, kind: 'rank', box: [794, 1304, 1116, 1472],     yDom: [1.69, 4.60],   data: reactMfRank }
];

const SECTION_TITLE_Y = [26, 558.3, 1053];
const SEPARATOR_Y = [525.7, 1020.5];
const COLUMN_X = [192, 567, 940];

// ---------------------------------------------------------------------------
// Drawing
// ---------------------------------------------------------------------------
const svg = d3.select('#fig');
svg.append('rect').attr('width', 1127).attr('height', 1501).attr('fill', '#fff');

SECTION_TITLES.forEach((t, i) => {
  svg.append('text')
    .attr('x', 567).attr('y', SECTION_TITLE_Y[i])
    .attr('text-anchor', 'middle')
    .attr('font-family', SERIF).attr('font-weight', 'bold')
    .attr('font-size', 27).attr('letter-spacing', 0.6)
    .attr('fill', '#111')
    .text(t);
});
COLUMN_TITLES.forEach((t, i) => {
  svg.append('text')
    .attr('x', COLUMN_X[i]).attr('y', 61.7)
    .attr('text-anchor', 'middle')
    .attr('font-family', SERIF).attr('font-weight', 'bold')
    .attr('font-size', 27).attr('letter-spacing', 0.6)
    .attr('fill', '#111')
    .text(t);
});
SEPARATOR_Y.forEach(y => {
  svg.append('line')
    .attr('x1', 6).attr('x2', 1127).attr('y1', y).attr('y2', y)
    .attr('stroke', '#222').attr('stroke-width', 1.5);
});

function styleAxis(a, size) {
  a.attr('font-family', SANS).attr('font-size', size);
  a.select('.domain').remove();
  a.selectAll('.tick line').attr('stroke', '#000').attr('stroke-width', 0.9);
  a.selectAll('.tick text').attr('fill', '#000');
}

function drawPanel(p, idx) {
  const [L, T, R, B] = p.box;
  const isObj = p.kind === 'obj';
  const names = Object.keys(p.data);
  const times = isObj ? OBJ_T : RANK_T;
  const g = svg.append('g').attr('font-family', SANS);

  const x = d3.scaleLinear().domain(isObj ? OBJ_XDOM : RANK_XDOM).range([L, R]);
  const y = isObj
    ? d3.scaleLog().domain([10 ** p.yExp[0], 10 ** p.yExp[1]]).range([B, T])
    : d3.scaleLinear().domain(p.yDom).range([B, T]);

  let yMajor, yMinor = [];
  if (isObj) {
    yMajor = d3.range(Math.ceil(p.yExp[0]), Math.floor(p.yExp[1]) + 1).map(e => 10 ** e);
    for (let e = Math.floor(p.yExp[0]); e <= Math.floor(p.yExp[1]); e++) {
      for (let m = 2; m <= 9; m++) {
        const v = m * 10 ** e;
        if (v >= 10 ** p.yExp[0] && v <= 10 ** p.yExp[1]) yMinor.push(v);
      }
    }
  } else {
    yMajor = d3.range(Math.ceil(p.yDom[0] * 2) / 2, p.yDom[1] + 1e-9, 0.5);
  }

  // grid
  const gridX = g.append('g').attr('transform', `translate(0,${B})`)
    .call(d3.axisBottom(x).tickValues(X_TICKS).tickSize(-(B - T)).tickFormat(''));
  const gridY = g.append('g').attr('transform', `translate(${L},0)`)
    .call(d3.axisLeft(y).tickValues(yMajor).tickSize(-(R - L)).tickFormat(''));
  [gridX, gridY].forEach(a => {
    a.select('.domain').remove();
    a.selectAll('line').attr('stroke', '#b0b0b0').attr('stroke-width', 0.9);
  });

  // series
  const clipId = 'plotclip' + idx;
  svg.append('clipPath').attr('id', clipId)
    .append('rect').attr('x', L).attr('y', T).attr('width', R - L).attr('height', B - T);
  const plot = g.append('g').attr('clip-path', `url(#${clipId})`);

  names.forEach(name => {
    const vals = p.data[name];
    const pts = times.map((t, i) => [t, vals[i]]);
    if (isObj) {
      const spread = (p.cqrBand && name === 'CQR') ? CQR_MF_SPREAD : OBJ_SPREAD;
      plot.append('path').datum(pts)
        .attr('fill', COLORS[name]).attr('fill-opacity', 0.17).attr('stroke', 'none')
        .attr('d', d3.area()
          .x(d => x(d[0]))
          .y0((d, i) => y(d[1] / (1 + spread[i])))
          .y1((d, i) => y(d[1] * (1 + spread[i]))));
    }
    plot.append('path').datum(pts)
      .attr('fill', 'none')
      .attr('stroke', COLORS[name])
      .attr('stroke-opacity', isObj ? 0.75 : 0.8)
      .attr('stroke-width', 1.5)
      .attr('stroke-linejoin', 'round')
      .attr('d', d3.line().x(d => x(d[0])).y(d => y(d[1])));
  });

  // legend (upper center)
  const lg = g.append('g');
  const lgTop = T + 2.7;
  const rowH = 7.9;
  const frame = lg.append('rect');
  let maxW = 0;
  const entries = names.map((name, i) => {
    const cy = lgTop + 3.6 + i * rowH;
    const txt = lg.append('text').attr('y', cy).attr('dy', '0.35em')
      .attr('font-size', 5).attr('fill', '#222').text(name);
    maxW = Math.max(maxW, txt.node().getComputedTextLength());
    return { name, cy, txt };
  });
  const lgW = 16.5 + maxW + 2.5;
  const lgL = (L + R) / 2 - lgW / 2;
  const lgH = 3.6 + (names.length - 1) * rowH + 4.6;
  frame.attr('x', lgL).attr('y', lgTop).attr('width', lgW).attr('height', lgH)
    .attr('rx', 1).attr('fill', '#fff').attr('fill-opacity', 0.85)
    .attr('stroke', '#d0d0d0').attr('stroke-width', 0.6);
  entries.forEach(e => {
    e.txt.attr('x', lgL + 16.5);
    lg.append('line')
      .attr('x1', lgL + 1.7).attr('x2', lgL + 10).attr('y1', e.cy).attr('y2', e.cy)
      .attr('stroke', COLORS[e.name]).attr('stroke-opacity', isObj ? 0.75 : 0.8)
      .attr('stroke-width', 1.5);
  });

  // frame
  g.append('rect').attr('x', L).attr('y', T).attr('width', R - L).attr('height', B - T)
    .attr('fill', 'none').attr('stroke', '#000').attr('stroke-width', 1.1);

  // axes
  const xa = g.append('g').attr('transform', `translate(0,${B})`)
    .call(d3.axisBottom(x).tickValues(X_TICKS).tickSize(3).tickPadding(1.5).tickFormat(d3.format('d')));
  styleAxis(xa, 9.2);

  const ya = g.append('g').attr('transform', `translate(${L},0)`);
  if (isObj) {
    ya.call(d3.axisLeft(y).tickValues(yMajor).tickSize(3).tickPadding(1.5).tickFormat(() => ''));
    styleAxis(ya, 10.2);
    ya.selectAll('.tick text').each(function (d) {
      const e = Math.round(Math.log10(d));
      const t = d3.select(this);
      t.text(null);
      t.append('tspan').text('10');
      t.append('tspan').attr('dy', '-0.5em').attr('font-size', '0.72em')
        .text(e < 0 ? '\u2212' + (-e) : String(e));
    });
    const minor = g.append('g').attr('transform', `translate(${L},0)`)
      .call(d3.axisLeft(y).tickValues(yMinor).tickSize(1.8).tickFormat(''));
    styleAxis(minor, 10.2);
    minor.selectAll('.tick line').attr('stroke-width', 0.6);
  } else {
    ya.call(d3.axisLeft(y).tickValues(yMajor).tickSize(3).tickPadding(1.5).tickFormat(d3.format('.1f')));
    styleAxis(ya, 10.2);
  }

  // labels
  g.append('text').attr('x', (L + R) / 2).attr('y', T - 4)
    .attr('text-anchor', 'middle').attr('font-size', 12.8).attr('fill', '#000')
    .text(SECTION_TITLES[p.sec]);
  g.append('text').attr('x', (L + R) / 2).attr('y', B + 24)
    .attr('text-anchor', 'middle').attr('font-size', 10.4).attr('fill', '#000')
    .text('Wallclock time');
  const bb = ya.node().getBBox();
  const labelCenter = L + bb.x - 7.5;
  g.append('text')
    .attr('transform', `translate(${labelCenter + 3.8},${(T + B) / 2}) rotate(-90)`)
    .attr('text-anchor', 'middle').attr('font-size', 10.4).attr('fill', '#000')
    .text(isObj ? 'objective' : 'Method rank');
}

PANELS.forEach(drawPanel);
</script>
</body>
</html>
